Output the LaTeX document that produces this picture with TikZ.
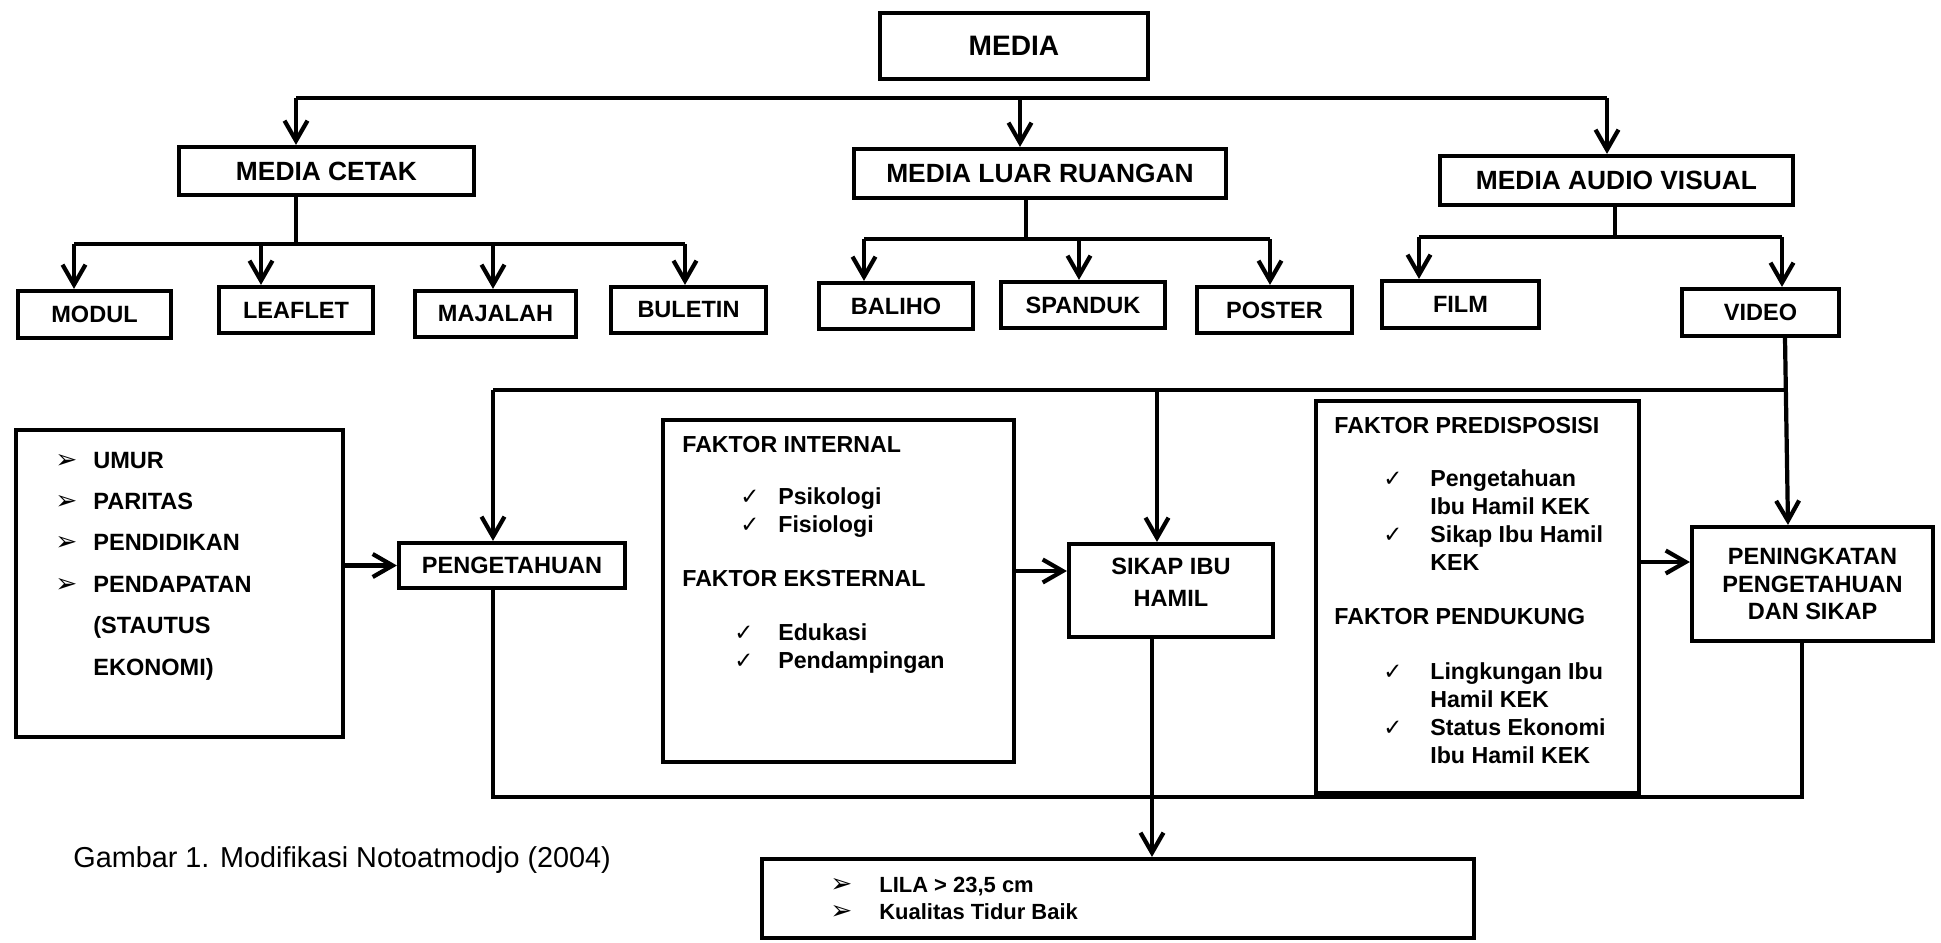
\documentclass[tikz,border=0pt]{standalone}
\usepackage{fontspec}
\setmainfont{Liberation Sans}
\newfontfamily\symfont{DejaVu Sans}
\usetikzlibrary{arrows.meta}

\newcommand{\bul}{{\symfont\mdseries\fontsize{15}{15}\selectfont ➢}}
\newcommand{\chk}{{\symfont\mdseries\fontsize{13}{13}\selectfont ✓}}

\begin{document}
\begin{tikzpicture}[x=0.02cm,y=-0.02cm,
	box/.style={draw,line width=2.4pt,inner sep=0pt,align=center,font=\bfseries\fontsize{13.4}{15.6}\selectfont},
	topbox/.style={box,font=\bfseries\fontsize{15}{18}\selectfont},
	ln/.style={line width=2.4pt},
	arr/.style={ln,-{Straight Barb[length=4mm,width=4.6mm]}},
	txt/.style={inner sep=0pt,anchor=base west,font=\bfseries\fontsize{13.2}{15.9}\selectfont}]
						\useasboundingbox (0,0) rectangle (1941,943);

						% media tree
						\node[topbox,minimum width=5.36cm,minimum height=1.32cm,font=\bfseries\fontsize{16}{19}\selectfont] (media) at (1014,46) {MEDIA};
						\node[topbox,minimum width=5.90cm,minimum height=0.96cm] (cetak) at (326.5,171) {MEDIA CETAK};
						\node[topbox,minimum width=7.44cm,minimum height=0.98cm] (luar) at (1040,173.5) {MEDIA LUAR RUANGAN};
						\node[topbox,minimum width=7.06cm,minimum height=0.98cm] (av) at (1616.5,180.5) {MEDIA AUDIO VISUAL};

						\node[box,minimum width=3.06cm,minimum height=0.94cm] (modul) at (94.5,314.5) {MODUL};
						\node[box,minimum width=3.08cm,minimum height=0.92cm] (leaflet) at (296,310) {LEAFLET};
						\node[box,minimum width=3.22cm,minimum height=0.92cm] (majalah) at (495.5,314) {MAJALAH};
						\node[box,minimum width=3.10cm,minimum height=0.92cm] (buletin) at (688.5,310) {BULETIN};
						\node[box,minimum width=3.08cm,minimum height=0.92cm] (baliho) at (896,306) {BALIHO};
						\node[box,minimum width=3.28cm,minimum height=0.92cm] (spanduk) at (1083,305) {SPANDUK};
						\node[box,minimum width=3.10cm,minimum height=0.92cm] (poster) at (1274.5,310) {POSTER};
						\node[box,minimum width=3.14cm,minimum height=0.94cm] (film) at (1460.5,304.5) {FILM};
						\node[box,minimum width=3.14cm,minimum height=0.94cm] (video) at (1760.5,312.5) {VIDEO};

						\coordinate (m1) at (296,98);
						\coordinate (m2) at (1020,98);
						\coordinate (m3) at (1607,98);
						\draw[ln] (m1) -- (m3);
						\draw[arr] (m1) -- (m1 |- cetak.north);
						\draw[arr] (m2) -- (m2 |- luar.north);
						\draw[arr] (m3) -- (m3 |- av.north);

						\coordinate (c0) at (296,244);
						\coordinate (c1) at (74,244);
						\coordinate (c2) at (261,244);
						\coordinate (c3) at (493,244);
						\coordinate (c4) at (685,244);
						\draw[ln] (c0 |- cetak.south) -- (c0);
						\draw[ln] (c1) -- (c4);
						\draw[arr] (c1) -- (c1 |- modul.north);
						\draw[arr] (c2) -- (c2 |- leaflet.north);
						\draw[arr] (c3) -- (c3 |- majalah.north);
						\draw[arr] (c4) -- (c4 |- buletin.north);

						\coordinate (l0) at (1026,239);
						\coordinate (l1) at (864,239);
						\coordinate (l2) at (1079,239);
						\coordinate (l3) at (1270,239);
						\draw[ln] (l0 |- luar.south) -- (l0);
						\draw[ln] (l1) -- (l3);
						\draw[arr] (l1) -- (l1 |- baliho.north);
						\draw[arr] (l2) -- (l2 |- spanduk.north);
						\draw[arr] (l3) -- (l3 |- poster.north);

						\coordinate (a0) at (1615,237);
						\coordinate (a1) at (1419,237);
						\coordinate (a2) at (1782,237);
						\draw[ln] (a0 |- av.south) -- (a0);
						\draw[ln] (a1) -- (a2);
						\draw[arr] (a1) -- (a1 |- film.north);
						\draw[arr] (a2) -- (a2 |- video.north);

						% lower part
						\node[box,minimum width=6.54cm,minimum height=6.14cm] (karakter) at (179.5,583.5) {};
						\node[box,minimum width=4.52cm,minimum height=0.90cm] (peng) at (512,565.5) {PENGETAHUAN};
						\node[box,minimum width=7.02cm,minimum height=6.84cm] (faktor) at (838.5,591) {};
						\node[box,minimum width=4.08cm,minimum height=1.86cm,text depth=0.32cm,font=\bfseries\fontsize{13.4}{18}\selectfont] (sikap) at (1171,590.5) {SIKAP IBU\\HAMIL};
						\node[box,minimum width=6.46cm,minimum height=7.84cm] (predis) at (1477.5,597) {};
						\node[box,minimum width=4.82cm,minimum height=2.28cm] (ningkat) at (1812.5,584) {PENINGKATAN\\PENGETAHUAN\\DAN SIKAP};
						\node[box,minimum width=14.24cm,minimum height=1.58cm] (lila) at (1118,898.5) {};

						\node[txt,font=\bfseries\fontsize{13.4}{23.6}\selectfont] (karaktertxt) at (55,468) {\begin{tabular}[t]{@{}l@{}l@{}}
							\makebox[0.76cm][l]{\bul} & UMUR\\
							\makebox[0.76cm][l]{\bul} & PARITAS\\
							\makebox[0.76cm][l]{\bul} & PENDIDIKAN\\
							\makebox[0.76cm][l]{\bul} & PENDAPATAN\\
							& (STAUTUS\\
							& EKONOMI)
						\end{tabular}};

						\node[txt] (faktortxt) at (682,452) {\begin{tabular}[t]{@{}l@{}l@{}}
							\multicolumn{2}{@{}l@{}}{FAKTOR INTERNAL}\\[0.5cm]
							\hspace*{1.16cm}\makebox[0.74cm][l]{\chk} & Psikologi\\
							\hspace*{1.16cm}\makebox[0.74cm][l]{\chk} & Fisiologi\\[0.52cm]
							\multicolumn{2}{@{}l@{}}{FAKTOR EKSTERNAL}\\[0.52cm]
							\hspace*{1.04cm}\makebox[0.88cm][l]{\chk} & Edukasi\\
							\hspace*{1.04cm}\makebox[0.88cm][l]{\chk} & Pendampingan
						\end{tabular}};

						\node[txt] (predistxt) at (1334,433) {\begin{tabular}[t]{@{}l@{}l@{}}
							\multicolumn{2}{@{}l@{}}{FAKTOR PREDISPOSISI}\\[0.52cm]
							\hspace*{0.98cm}\makebox[0.94cm][l]{\chk} & Pengetahuan\\
							& Ibu Hamil KEK\\
							\hspace*{0.98cm}\makebox[0.94cm][l]{\chk} & Sikap Ibu Hamil\\
							& KEK\\[0.52cm]
							\multicolumn{2}{@{}l@{}}{FAKTOR PENDUKUNG}\\[0.54cm]
							\hspace*{0.98cm}\makebox[0.94cm][l]{\chk} & Lingkungan Ibu\\
							& Hamil KEK\\
							\hspace*{0.98cm}\makebox[0.94cm][l]{\chk} & Status Ekonomi\\
							& Ibu Hamil KEK
						\end{tabular}};

						\node[txt,font=\bfseries\fontsize{12.5}{15.9}\selectfont] (lilatxt) at (830,892) {\begin{tabular}[t]{@{}l@{}l@{}}
							\makebox[0.98cm][l]{\bul} & LILA > 23,5 cm\\
							\makebox[0.98cm][l]{\bul} & Kualitas Tidur Baik
						\end{tabular}};

						\node[inner sep=0pt,anchor=base west,font=\fontsize{16.4}{19}\selectfont] (caption) at (73,867) {Gambar 1. Modifikasi Notoatmodjo (2004)};

						% feedback loop
						\coordinate (v0) at (1785,0);
						\coordinate (v1) at (1788,0);
						\draw[arr] (v0 |- video.south) -- (v1 |- ningkat.north);

						\coordinate (f0) at (493,390);
						\coordinate (f1) at (1786,390);
						\coordinate (f2) at (1157,390);
						\draw[ln] (f1) -- (f0);
						\draw[arr] (f0) -- (f0 |- peng.north);
						\draw[arr] (f2) -- (f2 |- sikap.north);

						\coordinate (h1) at (0,571);
						\coordinate (h2) at (0,562);
						\draw[arr] (karakter.east |- peng.west) -- (peng.west);
						\draw[arr] (faktor.east |- h1) -- (sikap.west |- h1);
						\draw[arr] (predis.east |- h2) -- (ningkat.west |- h2);

						\coordinate (b0) at (493,797);
						\coordinate (b1) at (1802,797);
						\coordinate (s0) at (1152,0);
						\draw[ln,line width=2.8pt] (b0 |- peng.south) -- (b0) -- (b1) -- (b1 |- ningkat.south);
						\draw[arr] (s0 |- sikap.south) -- (s0 |- lila.north);
					\end{tikzpicture}
\end{document}
